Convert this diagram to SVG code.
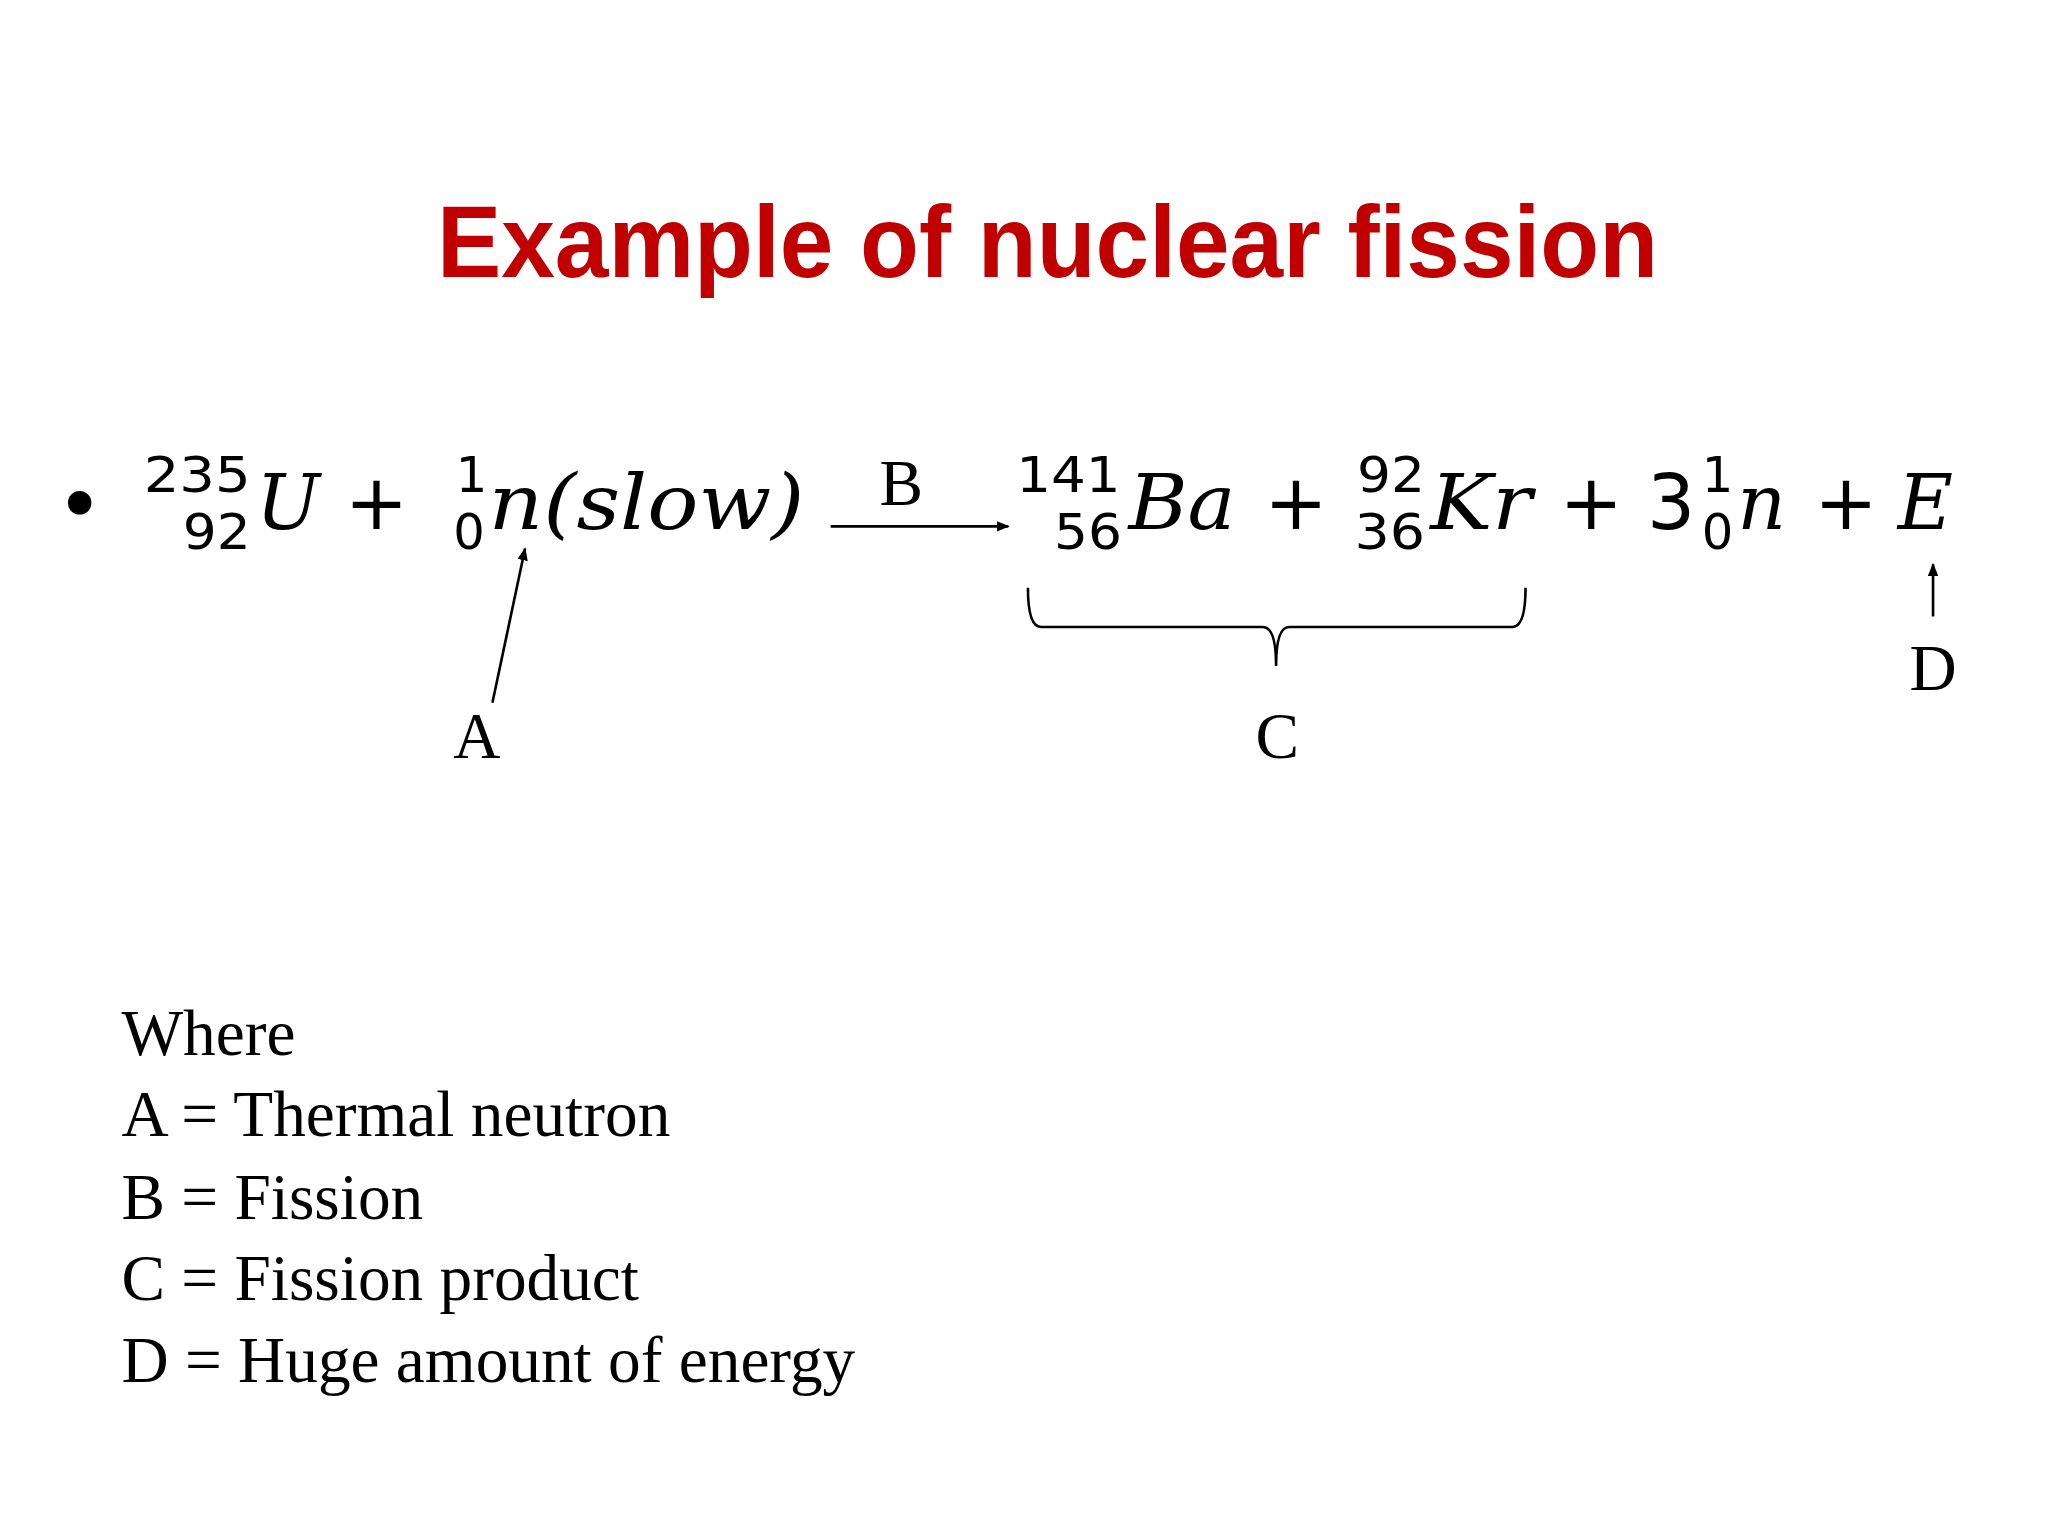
<svg xmlns="http://www.w3.org/2000/svg" width="2048" height="1536" viewBox="0 0 2048 1536">
<style>
.t{font-family:"Liberation Sans",Arial,sans-serif;font-weight:bold;fill:#c00000}
.m{font-family:"DejaVu Serif","Liberation Serif",serif;font-style:italic;font-size:58px;fill:#000}
.p{font-family:"DejaVu Sans","Liberation Sans",sans-serif;font-size:58px;fill:#000}
.s{font-family:"DejaVu Sans","Liberation Sans",sans-serif;font-size:38px;fill:#000}
.l{font-family:"Liberation Serif","Times New Roman",serif;font-size:50px;fill:#000}
.c{stroke:#000;stroke-width:2;fill:none}
</style>
<defs><marker id="ah" markerWidth="10" markerHeight="8" refX="9" refY="4" orient="auto" markerUnits="userSpaceOnUse"><path d="M0,0L10,4L0,8z" fill="#000"/></marker></defs>
<rect width="2048" height="1536" fill="#fff"/>
<g transform="scale(1.30612)">
<g id="title"><text class="t" x="802" y="212" font-size="78" text-anchor="middle" textLength="935" lengthAdjust="spacingAndGlyphs">Example of nuclear fission</text></g>
<g id="equation">
<circle cx="61" cy="385" r="9" fill="#000"/>
<text class="s" x="110" y="377" textLength="82" lengthAdjust="spacingAndGlyphs">235</text>
<text class="s" x="140" y="420" textLength="52" lengthAdjust="spacingAndGlyphs">92</text>
<text class="m" x="196" y="405">U</text>
<text class="p" x="264" y="405">+</text>
<text class="s" x="349" y="377">1</text>
<text class="s" x="347" y="420">0</text>
<text class="m" x="374" y="405" textLength="242" lengthAdjust="spacingAndGlyphs">n(slow)</text>
<text class="s" x="778" y="377" textLength="80" lengthAdjust="spacingAndGlyphs">141</text>
<text class="s" x="807" y="420" textLength="52" lengthAdjust="spacingAndGlyphs">56</text>
<text class="m" x="864" y="405" textLength="82" lengthAdjust="spacingAndGlyphs">Ba</text>
<text class="p" x="968" y="405">+</text>
<text class="s" x="1039" y="377" textLength="52" lengthAdjust="spacingAndGlyphs">92</text>
<text class="s" x="1037" y="420" textLength="54" lengthAdjust="spacingAndGlyphs">36</text>
<text class="m" x="1095" y="405" textLength="78" lengthAdjust="spacingAndGlyphs">Kr</text>
<text class="p" x="1194" y="405">+</text>
<text class="p" x="1261" y="405">3</text>
<text class="s" x="1303" y="377">1</text>
<text class="s" x="1303" y="420">0</text>
<text class="m" x="1330" y="405">n</text>
<text class="p" x="1389" y="405">+</text>
<text class="m" x="1453" y="405">E</text>
</g>
<g id="labels">
<text class="l" x="690" y="387" text-anchor="middle">B</text>
<text class="l" x="365" y="580" text-anchor="middle">A</text>
<text class="l" x="978" y="580" text-anchor="middle">C</text>
<text class="l" x="1480" y="528" text-anchor="middle">D</text>
</g>
<g id="connectors">
<line class="c" x1="636" y1="403" x2="772" y2="403" marker-end="url(#ah)"/>
<line class="c" x1="377" y1="538" x2="402" y2="420" marker-end="url(#ah)"/>
<line class="c" x1="1480" y1="472" x2="1480" y2="432" marker-end="url(#ah)"/>
<path class="c" d="M787,450 Q787,480 797,480 L967,480 Q977,480 977,510 Q977,480 987,480 L1158,480 Q1168,480 1168,450"/>
</g>
<g id="legend">
<text class="l" x="93" y="808">Where</text>
<text class="l" x="93" y="870">A = Thermal neutron</text>
<text class="l" x="93" y="933">B = Fission</text>
<text class="l" x="93" y="995">C = Fission product</text>
<text class="l" x="93" y="1058">D = Huge amount of energy</text>
</g>
</g>
</svg>
